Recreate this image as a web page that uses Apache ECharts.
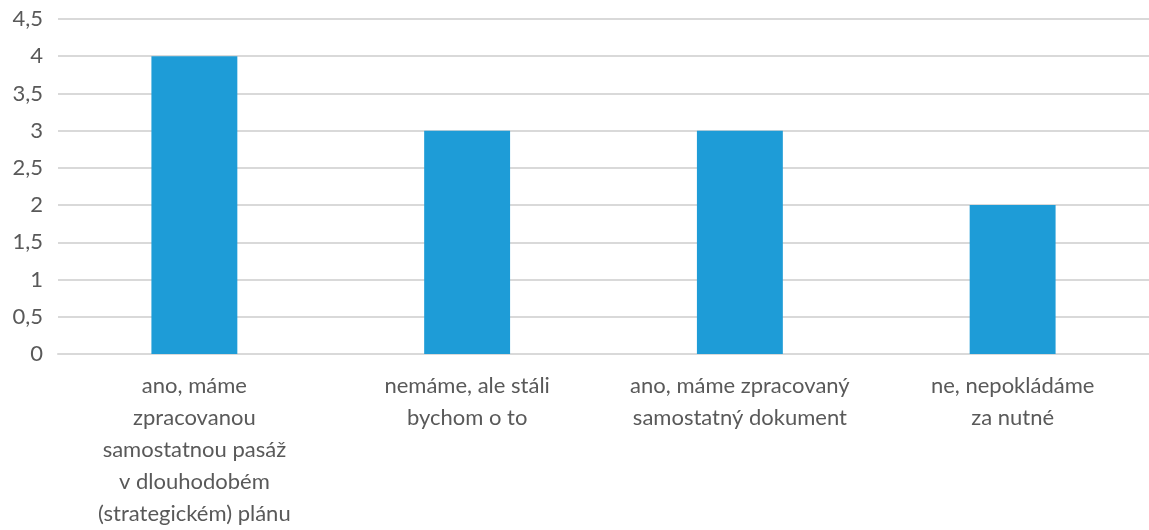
<!DOCTYPE html>
<html>
<head>
<meta charset="utf-8">
<script src="https://cdn.jsdelivr.net/npm/echarts@6/dist/echarts.min.js"></script>
<style>
  html, body { margin: 0; padding: 0; background: #fff; }
  #chart { width: 1149px; height: 530px; }
</style>
</head>
<body>
<div id="chart"></div>
<script>
// kategorie (zalomení řádků podle originálu)
const categories = [
  'ano, máme\nzpracovanou\nsamostatnou pasáž\nv dlouhodobém\n(strategickém) plánu',
  'nemáme, ale stáli\nbychom o to',
  'ano, máme zpracovaný\nsamostatný dokument',
  'ne, nepokládáme\nza nutné'
]
const values = [4, 3, 3, 2]

const textColor = '#595959'
const gridColor = '#d9d9d9'

const chart = echarts.init(document.getElementById('chart'))
chart.setOption({
  animation: false,
  grid: { left: 58, right: 0, top: 19, bottom: 176, containLabel: false },
  xAxis: {
    type: 'category',
    data: categories,
    axisTick: { show: false },
    axisLine: { lineStyle: { color: gridColor, width: 2 } },
    axisLabel: {
      interval: 0,
      color: textColor,
      fontFamily: 'Lato',
      fontSize: 22,
      lineHeight: 32,
      margin: 16,
      align: 'center'
    }
  },
  yAxis: {
    type: 'value',
    min: 0,
    max: 4.5,
    interval: 0.5,
    axisLine: { show: false },
    axisTick: { show: false },
    splitLine: { lineStyle: { color: gridColor, width: 2 } },
    axisLabel: {
      color: textColor,
      fontFamily: 'Lato',
      fontSize: 22,
      margin: 15,
      formatter: v => String(v).replace('.', ',')
    }
  },
  series: [{
    type: 'bar',
    data: values,
    barWidth: '31.5%',
    itemStyle: { color: '#1e9cd7' }
  }]
})
</script>
</body>
</html>
